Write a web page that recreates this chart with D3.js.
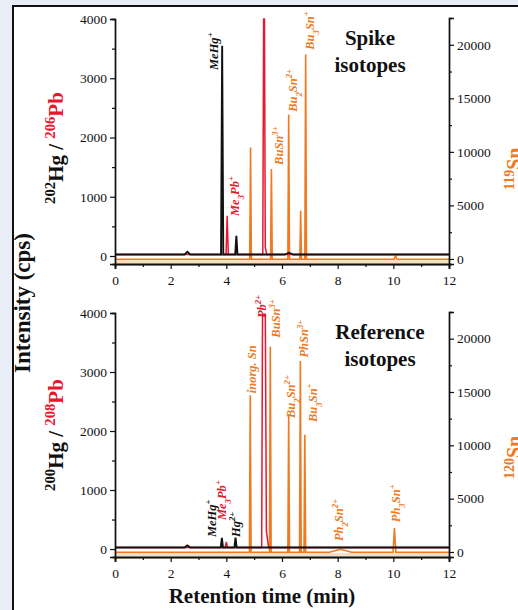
<!DOCTYPE html>
<html><head><meta charset="utf-8">
<script src="https://cdn.jsdelivr.net/npm/d3@7"></script>
<style>
html,body{margin:0;padding:0;background:#e9eef6;}
svg{display:block;font-family:"Liberation Serif","Times New Roman",serif;}
</style></head>
<body><svg id="c" width="518" height="610"></svg>
<script>
// ---------- DATA ----------
const xTicks = [0, 2, 4, 6, 8, 10, 12];
const leftTicks = [0, 1000, 2000, 3000, 4000];
const rightTicks = [0, 5000, 10000, 15000, 20000];

// Spike isotopes panel traces: [time (min), intensity (cps)]
const spikeHg = [[0,25],[2.5,25],[2.6,70],[2.7,25],[3.81,25],[3.85,3550],[3.89,25],[4.32,25],[4.36,340],[4.40,25],[6.1,25],[6.25,55],[6.4,25],[12,25]];
const spikePb = [[0,25],[3.99,25],[4.03,680],[4.07,25],[5.31,25],[5.34,4000],[5.37,4000],[5.40,150],[5.45,25],[12,25]];
const spikeSn = [[0,-20],[4.84,-20],[4.87,10400],[4.90,-20],[5.59,-20],[5.62,8400],[5.65,-20],[6.21,-20],[6.24,13500],[6.27,-20],[6.64,-20],[6.67,4500],[6.70,-20],[6.82,-20],[6.85,19100],[6.88,-20],[10.03,-20],[10.08,300],[10.13,-20],[12,-20]];

// Reference isotopes panel traces
const refHg = [[0,25],[2.5,25],[2.6,60],[2.7,25],[3.80,25],[3.84,190],[3.88,25],[4.29,25],[4.33,195],[4.37,25],[12,25]];
const refPb = [[0,25],[3.96,25],[4.00,120],[4.04,25],[5.27,25],[5.30,3980],[5.40,3980],[5.44,300],[5.52,25],[12,25]];
const refSn = [[0,-20],[4.83,-20],[4.86,14700],[4.89,-20],[5.55,-20],[5.58,19250],[5.61,-20],[6.21,-20],[6.24,12900],[6.27,-20],[6.63,-20],[6.66,17900],[6.69,-20],[6.79,-20],[6.82,11000],[6.85,-20],[7.7,-20],[8.1,250],[8.5,-20],[9.99,-20],[10.04,2240],[10.09,-20],[12,-20]];

// Peak labels: [parts, label time, label start value, axis, colour key]
const spikeLabels = [
  [[["MeHg",""],["+","sup"]], 3.70, 3139, "L", "k"],
  [[["Me",""],["3","sub"],["Pb",""],["+","sup"]], 4.46, 675, "L", "r"],
  [[["BuSn",""],["3+","sup"]], 6.04, 8785, "R", "o"],
  [[["Bu",""],["2","sub"],["Sn",""],["2+","sup"]], 6.54, 13738, "R", "o"],
  [[["Bu",""],["3","sub"],["Sn",""],["+","sup"]], 7.15, 19533, "R", "o"]
];
const refLabels = [
  [[["MeHg",""],["+","sup"]], 3.63, 203, "L", "k"],
  [[["Me",""],["3","sub"],["Pb",""],["+","sup"]], 3.99, 491, "L", "r"],
  [[["Hg",""],["2+","sup"]], 4.49, 203, "L", "k"],
  [[["inorg. Sn",""]], 5.07, 14880, "R", "o"],
  [[["Pb",""],["2+","sup"]], 5.43, 3915, "L", "r"],
  [[["BuSn",""],["3+","sup"]], 5.93, 20090, "R", "o"],
  [[["Bu",""],["2","sub"],["Sn",""],["2+","sup"]], 6.47, 12560, "R", "o"],
  [[["PhSn",""],["3+","sup"]], 6.94, 18230, "R", "o"],
  [[["Bu",""],["3","sub"],["Sn",""],["+","sup"]], 7.26, 12190, "R", "o"],
  [[["Ph",""],["2","sub"],["Sn",""],["2+","sup"]], 8.19, 1020, "R", "o"],
  [[["Ph",""],["3","sub"],["Sn",""],["+","sup"]], 10.24, 2790, "R", "o"]
];

const panelTitles = [["Spike","isotopes"],["Reference","isotopes"]];
const leftLabels = [[["202","sup","k"],["Hg","","k"],[" / ","","k"],["206","sup","r"],["Pb","","r"]],
                    [["200","sup","k"],["Hg","","k"],[" / ","","k"],["208","sup","r"],["Pb","","r"]]];
const rightLabels = [[["119","sup"],["Sn",""]],[["120","sup"],["Sn",""]]];

// ---------- DRAW ----------
const COL = {k:"#111111", r:"#e8162e", o:"#f07a22"};
const svg = d3.select("#c");
svg.append("rect").attr("x",0).attr("y",0).attr("width",518).attr("height",610).attr("fill","#e9eef6");
svg.append("rect").attr("x",13).attr("y",6).attr("width",540).attr("height",640)
   .attr("fill","#ffffff").attr("stroke","#111").attr("stroke-width",2);

const x = d3.scaleLinear().domain([0,12]).range([115,449]);

function addParts(textSel, parts){
  parts.forEach(p=>{
    const t = textSel.append("tspan").text(p[0]);
    if (p[1]==="sup") t.attr("baseline-shift","super").attr("font-size","70%");
    if (p[1]==="sub") t.attr("baseline-shift","sub").attr("font-size","70%");
    if (p[2]) t.attr("fill", COL[p[2]]);
  });
}

const leftLabelY = [148, 435];
const rightLabelY = [190, 479];

function panel(i, top, bottom, hg, pb, sn, labels){
  const yL = d3.scaleLinear().domain([-135,4000]).range([bottom, top]);
  const yR = d3.scaleLinear().domain([-470,22500]).range([bottom, top-1]);
  const g = svg.append("g");

  const line = (ys)=>d3.line().x(d=>x(d[0])).y(d=>ys(d[1]));
  g.append("line").attr("x1",x(0)).attr("x2",x(12)).attr("y1",bottom-2.5).attr("y2",bottom-2.5)
    .attr("stroke","#f7dcc6").attr("stroke-width",3);
  g.append("path").datum(sn).attr("d",line(yR)).attr("fill","none").attr("stroke",COL.o).attr("stroke-width",1.6);
  g.append("path").datum(pb).attr("d",line(yL)).attr("fill","none").attr("stroke",COL.r).attr("stroke-width",1.5);
  g.append("path").datum(hg).attr("d",line(yL)).attr("fill","none").attr("stroke",COL.k).attr("stroke-width",1.9);

  const fmt = d3.format("d");
  const ax = g.append("g").attr("transform",`translate(0,${bottom})`)
    .call(d3.axisBottom(x).tickValues(xTicks).tickSize(5).tickPadding(6).tickFormat(fmt));
  g.append("g").attr("transform",`translate(0,${bottom})`)
    .call(d3.axisBottom(x).tickValues(d3.range(1,12,2)).tickSize(3).tickFormat(""));
  g.append("g").attr("transform",`translate(115,0)`)
    .call(d3.axisLeft(yL).tickValues(leftTicks).tickSize(5).tickPadding(3).tickFormat(fmt));
  g.append("g").attr("transform",`translate(115,0)`)
    .call(d3.axisLeft(yL).tickValues([500,1500,2500,3500]).tickSize(3).tickFormat(""));
  g.append("g").attr("transform",`translate(449,0)`)
    .call(d3.axisRight(yR).tickValues(rightTicks).tickSize(5).tickPadding(3).tickFormat(fmt));
  g.append("g").attr("transform",`translate(449,0)`)
    .call(d3.axisRight(yR).tickValues([2500,7500,12500,17500]).tickSize(3).tickFormat(""));
  g.selectAll(".domain").attr("stroke","#111").attr("stroke-width",1.4);
  g.selectAll(".tick line").attr("stroke","#111").attr("stroke-width",1.2);
  g.selectAll(".tick text").attr("font-family","Liberation Serif").attr("font-size",13.5).attr("fill","#111");
  ax.select(".domain").attr("stroke","#2e3a2e").attr("stroke-width",2);

  labels.forEach(l=>{
    const ys = l[3]==="L" ? yL : yR;
    const t = g.append("text").attr("transform",`translate(${x(l[1])},${ys(l[2])}) rotate(-90)`)
      .attr("font-size",12.5).attr("font-style","italic").attr("font-weight","bold")
      .attr("fill",COL[l[4]]);
    addParts(t, l[0]);
  });

  const tt = panelTitles[i];
  const cx = i===0 ? 370 : 380;
  g.append("text").attr("x",cx).attr("y",top+26).attr("text-anchor","middle")
    .attr("font-size",21).attr("font-weight","bold").attr("fill","#111").text(tt[0]);
  g.append("text").attr("x",cx).attr("y",top+53).attr("text-anchor","middle")
    .attr("font-size",21).attr("font-weight","bold").attr("fill","#111").text(tt[1]);

  const lt = g.append("text").attr("transform",`translate(63,${leftLabelY[i]}) rotate(-90)`)
    .attr("text-anchor","middle").attr("font-size",21).attr("font-weight","bold");
  addParts(lt, leftLabels[i]);
  const rt = g.append("text").attr("transform",`translate(521,${rightLabelY[i]}) rotate(-90)`)
    .attr("font-size",20).attr("font-weight","bold").attr("fill",COL.o);
  addParts(rt, rightLabels[i]);
}

panel(0, 19, 264, spikeHg, spikePb, spikeSn, spikeLabels);
panel(1, 313, 557, refHg, refPb, refSn, refLabels);

svg.append("text").attr("transform","translate(30,303) rotate(-90)").attr("text-anchor","middle")
  .attr("font-size",23).attr("font-weight","bold").attr("fill","#111").text("Intensity  (cps)");
svg.append("text").attr("x",262).attr("y",603).attr("text-anchor","middle")
  .attr("font-size",21).attr("font-weight","bold").attr("fill","#111").text("Retention time  (min)");
</script></body></html>
